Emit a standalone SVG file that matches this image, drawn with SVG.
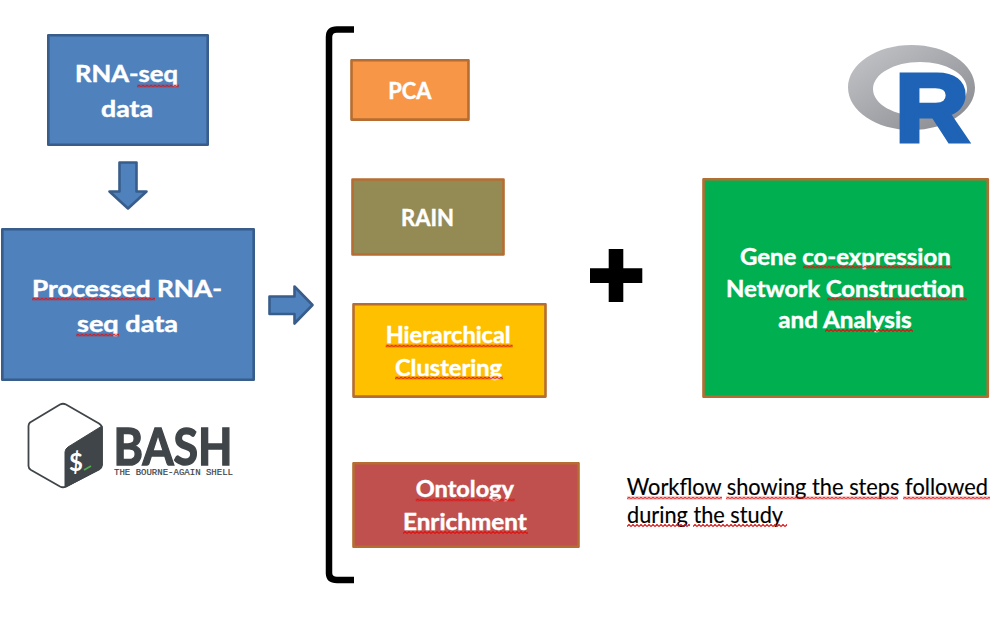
<svg xmlns="http://www.w3.org/2000/svg" width="1003" height="641" viewBox="0 0 1003 641">
<style>
.n{stroke-width:2.6;stroke-linejoin:round}
.blue{fill:#4f81bd;stroke:#385d8a}
.br{stroke:#b66d31}
text{font-family:"Lato","Liberation Sans",sans-serif}
.t{font-size:23px;font-weight:700;fill:#fff;stroke:#fff;stroke-width:.45}
.c{font-size:22.5px;fill:#000;stroke:#000;stroke-width:.15}
.sq{fill:url(#sq)}
</style>
<defs>
<pattern id="sq" width="4" height="3" patternUnits="userSpaceOnUse"><path d="M0 2.500L2 .5L4 2.500" fill="none" stroke="#e01010" stroke-width="1.200"/></pattern>
<linearGradient id="rg" x1="0" y1="0" x2="1" y2="1"><stop offset="0" stop-color="#c6c7cb"/><stop offset="1" stop-color="#85878c"/></linearGradient>
<linearGradient id="bg" x1="0" y1="0" x2="1" y2="1"><stop offset="0" stop-color="#2a6fc4"/><stop offset="1" stop-color="#1a5ba8"/></linearGradient>
</defs>
<rect width="1003" height="641" fill="#fff"/>
<g id="connectors">
<path class="n blue" d="M119.500 162.500H136.500V191.500H146.500L128 208.500L109.500 191.500H119.500Z"/>
<path class="n blue" d="M269.500 296.500H294.500V286.500L312.500 305L294.500 323.500V314H269.500Z"/>
</g>
<g id="rna-seq">
<rect class="n blue" x="48.300" y="35.300" width="159.400" height="109.400"/>
<text class="t" x="75" y="81.700" textLength="103" lengthAdjust="spacingAndGlyphs">RNA-seq</text>
<text class="t" x="101" y="116.700" textLength="52" lengthAdjust="spacingAndGlyphs">data</text>
<rect class="sq" transform="translate(137 84.500)" width="42" height="3"/>
</g>
<g id="processed">
<rect class="n blue" x="2.300" y="229.300" width="251.400" height="150.400"/>
<text class="t" x="32" y="296.700" textLength="190" lengthAdjust="spacingAndGlyphs">Processed RNA-</text>
<text class="t" x="77" y="331.700" textLength="101" lengthAdjust="spacingAndGlyphs">seq data</text>
<rect class="sq" transform="translate(32 297.500)" width="123" height="3"/>
<rect class="sq" transform="translate(76 333.500)" width="43" height="3"/>
</g>
<g id="bash-logo">
<path d="M30 422.500L60 404.500Q63 403 66 404.500L99 423.500Q102 425.500 102 428V465Q102 467.500 99 469.500L66 486.500Q63 488 60 486.500L31 470Q28.500 468.500 28.500 466V426Q28.500 424 30 422.500Z" fill="#fff" stroke="#3f4548" stroke-width="1.800" stroke-linejoin="round"/>
<path d="M65 452Q65 449 68 447L102 426V465Q102 467.500 99 469.500L66 487Q65 487.500 65 486Z" fill="#3f4548" stroke="#3f4548" stroke-width="1" stroke-linejoin="round"/>
<text x="76" y="471" font-size="24" font-weight="700" fill="#fff" text-anchor="middle">$</text>
<path d="M84 470L91 466" stroke="#4fb04a" stroke-width="1.800"/>
<text x="113.500" y="464.500" font-size="52" font-weight="700" fill="#3f4548" stroke="#3f4548" stroke-width="1.500" textLength="119" lengthAdjust="spacingAndGlyphs">BASH</text>
<text x="114" y="475" font-size="8.800" fill="#3f4548" stroke="#3f4548" stroke-width=".2" style="font-family:'Liberation Mono',monospace" textLength="119" lengthAdjust="spacingAndGlyphs">THE BOURNE-AGAIN SHELL</text>
</g>
<g id="bracket"><path d="M354 29.500H337Q329 29.500 329 37V573Q329 580 337 580H354" fill="none" stroke="#000" stroke-width="6.500"/></g>
<g id="pca">
<rect class="n br" fill="#f79646" x="351.500" y="60.300" width="117" height="59.300"/>
<text class="t" x="388.300" y="99" textLength="43.200" lengthAdjust="spacingAndGlyphs">PCA</text>
</g>
<g id="rain">
<rect class="n br" fill="#948a54" x="352.500" y="179.500" width="151" height="75"/>
<text class="t" x="401" y="226" textLength="53" lengthAdjust="spacingAndGlyphs">RAIN</text>
</g>
<g id="hierarchical">
<rect class="n br" fill="#ffc000" x="353.500" y="304.300" width="192" height="92.300"/>
<text class="t" x="385.700" y="343.300" textLength="125" lengthAdjust="spacingAndGlyphs">Hierarchical</text>
<text class="t" x="395" y="375.700" textLength="107" lengthAdjust="spacingAndGlyphs">Clustering</text>
<rect class="sq" transform="translate(385.700 344.500)" width="127" height="3"/>
<rect class="sq" transform="translate(395 376.500)" width="108" height="3"/>
</g>
<g id="ontology">
<rect class="n br" fill="#c0504d" x="353.500" y="463.300" width="225" height="83.400"/>
<text class="t" x="415.700" y="497" textLength="98.300" lengthAdjust="spacingAndGlyphs">Ontology</text>
<text class="t" x="403" y="530" textLength="123.700" lengthAdjust="spacingAndGlyphs">Enrichment</text>
<rect class="sq" transform="translate(415.700 498.500)" width="99" height="3"/>
<rect class="sq" transform="translate(403 531)" width="125" height="3"/>
</g>
<g id="plus"><path d="M608.700 249H623.300V268.300H642.300V283H623.300V302H608.700V283H590V268.300H608.700Z" fill="#000"/></g>
<g id="r-logo">
<path fill-rule="evenodd" fill="url(#rg)" d="M911.500 45C946.500 45 975 64 975 87.500C975 111 946.500 130 911.500 130C876.500 130 848 111 848 87.500C848 64 876.500 45 911.500 45ZM920 62C894 62 873 74 873 89C873 104 894 116 920 116C946 116 967 104 967 89C967 74 946 62 920 62Z"/>
<text x="895.500" y="140.500" font-size="96" font-weight="700" fill="#1f63b6" stroke="#1f63b6" stroke-width="5" style="font-family:'Liberation Sans',sans-serif" textLength="73" lengthAdjust="spacingAndGlyphs">R</text>
</g>
<g id="gene-network">
<rect class="n br" fill="#00b050" x="703.500" y="179.300" width="284.300" height="217.400"/>
<text class="t" x="740" y="264.800" textLength="210.700" lengthAdjust="spacingAndGlyphs">Gene co-expression</text>
<text class="t" x="726" y="296.700" textLength="238.300" lengthAdjust="spacingAndGlyphs">Network Construction</text>
<text class="t" x="778.300" y="327.800" textLength="133.400" lengthAdjust="spacingAndGlyphs">and Analysis</text>
<rect class="sq" transform="translate(803 265.500)" width="149" height="3"/>
<rect class="sq" transform="translate(827 297.500)" width="140" height="3"/>
<rect class="sq" transform="translate(825 329)" width="88" height="3"/>
</g>
<g id="caption">
<text class="c" x="626.700" y="495" textLength="361.300" lengthAdjust="spacingAndGlyphs">Workflow showing the steps followed</text>
<text class="c" x="627" y="522.500" textLength="156" lengthAdjust="spacingAndGlyphs">during the study</text>
<rect class="sq" transform="translate(627 496.500)" width="95" height="3"/>
<rect class="sq" transform="translate(726 496.500)" width="172" height="3"/>
<rect class="sq" transform="translate(903 496.500)" width="87" height="3"/>
<rect class="sq" transform="translate(627 524)" width="63" height="3"/>
<rect class="sq" transform="translate(693 524)" width="94" height="3"/>
</g>
</svg>
